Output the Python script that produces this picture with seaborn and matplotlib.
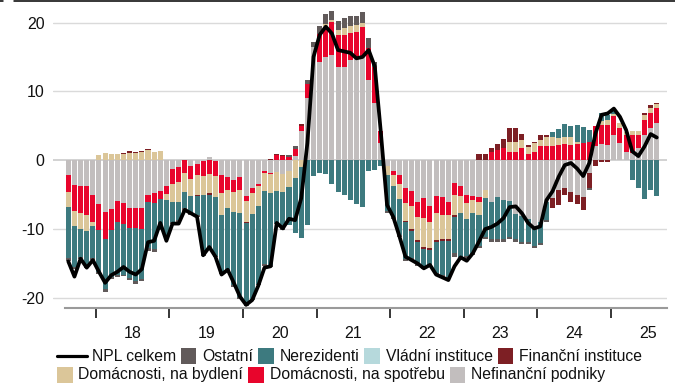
import numpy as np
import pandas as pd
import matplotlib
matplotlib.use("Agg")
import matplotlib.pyplot as plt
from matplotlib.lines import Line2D
from matplotlib.patches import Rectangle
import seaborn as sns

# Monthly contributions to the year-on-year change of NPL, Aug 2017 - Aug 2025 (p.p.)
months = pd.period_range("2017-08", "2025-08", freq="M")
year_labels = ["18", "19", "20", "21", "22", "23", "24", "25"]

nefinancni = [
    -2.1, -3.6, -3.8, -3.7, -5.0,
    -6.4, -7.5, -7.1, -5.9, -6.2, -7.0, -6.9, -7.0, -5.1, -4.8, -4.4, -3.8,
    -1.2, -1.0, 0.0, -0.8, -0.6, -0.15, 0.4, -0.15, -2.2, -2.5, -2.85, -2.5,
    -5.2, -4.0, -3.5, -1.5, -1.85, -1.75, -2.0, -1.6, 0.6, 4.2, 9.0, 16.5,
    14.3, 15.0, 15.3, 13.6, 13.6, 14.6, 15.0, 15.1, 11.7, 8.3, 2.5, -0.9,
    -1.5, -2.1, -4.1, -4.5, -6.0, -5.5, -6.6, -5.2, -5.3, -6.1, -3.35, -3.8,
    -5.0, -5.2, -5.3, -4.3, -6.1, -5.4, -5.8, -5.9, -7.8, -8.1, -8.6, -9.6,
    -9.0, -6.0, -5.5, -4.3, -4.1, -4.6, -5.1, -5.3, -1.9, 2.0, 2.4, 2.2,
    3.7, 2.5, 1.2, 1.0, 1.75, 3.7, 4.65, 5.4,
]
spotreba = [
    -2.5, -3.7, -3.8, -4.2, -4.0,
    -3.8, -4.0, -3.0, -3.1, -3.0, -2.8, -2.9, -3.0, -1.0, -1.4, -1.2, -1.1,
    -2.3, -2.1, -1.9, -1.9, -1.6, -2.1, -2.0, -2.1, -2.5, -1.8, -1.7, -1.8,
    -0.7, -0.8, -0.2, -0.35, -0.2, 0.8, 0.6, 0.5, 1.0, 0.8, 2.1, 0.0,
    4.1, 4.4, 4.8, 4.6, 4.6, 3.9, 3.6, 4.25, 4.6, 5.3, 1.7, 0.0,
    -0.6, -1.4, -2.1, -2.1, -2.2, -2.9, -2.3, -2.5, -2.7, -1.8, -1.7, -1.45,
    -1.2, -0.6, -0.7, 0.0, 1.25, 1.5, 1.75, 1.25, 1.25, 1.75, 0.9, 1.25,
    2.0, 2.1, 2.1, 2.2, 2.3, 2.2, 2.3, 2.5, 2.7, 3.0, 2.75, 2.9,
    2.7, 2.2, 2.4, 2.7, 1.95, 2.2, 2.2, 2.2,
]
bydleni = [
    -2.2, -2.2, -2.4, -2.4, -0.6,
    0.8, 1.0, 0.9, 0.9, 0.9, 1.1, 1.0, 1.25, 1.5, 1.15, 1.35, -0.9,
    -2.5, -2.9, -2.75, -2.5, -2.8, -2.8, -2.8, -3.1, -3.3, -2.6, -3.0, -3.3,
    -3.1, -3.0, -2.9, -2.65, -2.7, -2.7, -2.6, -2.3, -2.6, -1.0, 0.0, 0.0,
    0.0, 0.4, 0.25, 0.7, 1.0, 1.0, 1.0, 0.6, 0.0, 0.0, 0.0, -1.2,
    -1.7, -2.2, -2.6, -3.4, -3.4, -4.2, -3.9, -3.9, -3.4, -3.6, -2.9, -2.4,
    -2.4, -1.85, -1.9, -1.2, 0.0, 0.0, 0.0, 1.45, 1.45, 1.2, 1.05, 1.2,
    1.0, 1.25, 1.25, 1.0, 1.1, 1.2, 0.3, 0.0, 0.0, 0.0, 0.5, 0.7,
    0.3, 0.7, 0.5, 0.5, 0.6, 0.7, 0.7, 0.5,
]
financni = [
    0.0, 0.0, 0.0, 0.0, 0.0,
    0.0, 0.0, 0.0, 0.0, 0.1, 0.2, 0.2, 0.15, 0.15, 0.0, 0.0, 0.0,
    0.0, 0.0, 0.0, 0.0, -0.25, 0.0, -0.25, 0.0, 0.0, 0.0, 0.0, -0.1,
    -0.1, 0.0, 0.0, 0.0, 0.2, 0.15, 0.1, 0.0, 0.0, 0.3, 0.0, 0.0,
    0.0, 0.0, 0.0, 0.0, 0.0, 0.0, 0.0, 0.0, 0.0, 0.0, 0.0, 0.0,
    0.0, 0.0, -0.2, -0.25, -0.2, -0.25, -0.2, -0.2, -0.3, -0.2, -0.25, 0.0,
    0.0, 0.0, 0.9, 0.9, 0.5, 0.9, 1.3, 1.95, 1.95, 0.9, 0.25, 0.25,
    0.6, 0.25, -1.4, -2.2, -1.0, -1.45, -1.2, -1.95, -2.2, -0.9, -0.2, -0.2,
    0.0, 0.0, 0.0, 0.0, 0.0, 0.25, 0.5, 0.25,
]
vladni = [0.0] * len(months)
nerezidenti = [
    -7.4, -6.0, -4.0, -5.0, -4.6,
    -6.0, -7.2, -6.8, -7.7, -7.4, -7.3, -7.8, -7.2, -6.7, -6.7, -4.3, -5.4,
    -3.0, -2.7, -2.3, -2.5, -2.7, -8.5, -7.6, -8.5, -8.3, -8.9, -10.6, -12.2,
    -11.8, -12.3, -11.3, -10.5, -10.4, -4.6, -5.3, -5.5, -8.0, -10.3, -9.4, -2.3,
    -1.9, -2.0, -3.5, -4.6, -5.1, -5.8, -6.4, -6.8, -1.6, -1.4, -0.9, -5.3,
    -4.5, -5.2, -5.3, -4.0, -3.3, -2.6, -2.2, -4.6, -5.0, -5.3, -5.3, -6.5,
    -5.3, -5.8, -4.6, -5.6, -5.3, -6.1, -5.7, -5.3, -3.7, -3.8, -3.3, -2.8,
    -3.0, -2.7, 0.7, 1.3, 1.85, 1.55, 2.55, 2.4, 1.7, 0.0, 1.2, 0.7,
    0.5, 0.0, 0.0, -2.85, -4.05, -5.7, -4.35, -5.2,
]
ostatni = [
    -0.5, -0.3, -0.3, -0.3, -0.3,
    -0.3, -0.4, -0.3, -0.3, -0.2, -0.3, -0.3, -0.3, -0.4, -0.4, -0.3, -0.3,
    -0.3, -0.3, -0.5, -0.3, -0.3, -0.3, -0.3, -0.2, -0.2, -0.2, -0.2, -0.2,
    -0.2, -0.2, -0.2, -0.3, -0.3, -0.2, -0.2, 0.3, 0.5, 0.0, 0.6, 0.7,
    1.1, 1.5, 1.3, 1.35, 1.45, 1.45, 1.3, 1.55, 1.45, 0.6, 0.0, -0.3,
    -0.2, -0.2, -0.4, -0.3, -0.3, -0.3, -0.3, -0.3, -0.3, -0.3, -0.5, -0.3,
    -0.3, -0.3, -0.3, -0.4, -0.4, -0.3, -0.3, -0.3, -0.4, -0.3, -0.3, -0.3,
    -0.3, -0.3, 0.0, 0.0, 0.0, 0.0, 0.0, 0.0, -0.2, 0.0, 0.0, 0.0,
    0.0, 0.0, 0.0, 0.0, 0.0, 0.0, 0.0, 0.0,
]
npl_celkem = [
    -14.7, -16.9, -14.3, -15.6, -14.5,
    -16.2, -17.8, -16.7, -16.2, -15.5, -16.2, -16.6, -15.8, -11.9, -11.7, -9.1, -11.7,
    -9.2, -9.2, -7.2, -7.7, -8.2, -13.8, -12.6, -14.0, -16.6, -15.9, -17.8, -19.8,
    -21.0, -20.3, -18.2, -15.6, -15.4, -9.1, -9.9, -8.5, -8.7, -5.5, 2.5, 15.0,
    18.2, 19.4, 18.4, 16.0, 15.8, 15.6, 14.8, 15.0, 16.0, 13.6, 3.9, -6.5,
    -8.2, -11.0, -14.0, -14.5, -15.0, -15.7, -15.2, -16.6, -17.0, -17.4, -15.4, -14.1,
    -14.6, -13.5, -11.8, -10.0, -9.7, -9.2, -8.4, -6.8, -6.7, -7.7, -9.1, -9.9,
    -9.6, -5.8, -4.5, -2.4, -0.7, -0.4, -1.2, -2.3, -0.4, 3.9, 6.6, 6.8,
    7.5, 6.3, 4.4, 1.3, 0.6, 2.0, 3.8, 3.3,
]

# stacking order, from the zero line outwards
components = [
    ("Nefinanční podniky", nefinancni, "#c2bebe"),
    ("Domácnosti, na spotřebu", spotreba, "#e8052c"),
    ("Domácnosti, na bydlení", bydleni, "#dbc699"),
    ("Finanční instituce", financni, "#7d1f24"),
    ("Vládní instituce", vladni, "#b6d9dc"),
    ("Nerezidenti", nerezidenti, "#3d7a7f"),
    ("Ostatní", ostatni, "#615a5a"),
]

sns.set_style("white")
plt.rcParams["font.family"] = ["Liberation Sans", "DejaVu Sans"]
plt.rcParams["font.size"] = 11.5
TEXT = "#111111"

W, H = 675, 388
fig = plt.figure(figsize=(W / 100, H / 100), dpi=100)
ax = fig.add_axes([53 / W, 1 - 308.3 / H, (667 - 53) / W, 308.3 / H])

x = np.arange(len(months))
pos_base = np.zeros(len(x))
neg_base = np.zeros(len(x))
for name, vals, color in components:
    v = np.asarray(vals, dtype=float)
    bottom = np.where(v >= 0, pos_base, neg_base)
    sns.barplot(x=x, y=v, bottom=bottom, orient="x", native_scale=True,
                color=color, saturation=1, width=0.82, errorbar=None,
                linewidth=0, zorder=2, ax=ax)
    pos_base += np.clip(v, 0, None)
    neg_base += np.clip(v, None, 0)

sns.lineplot(x=x, y=npl_celkem, color="black", linewidth=2.7, zorder=5,
             solid_joinstyle="round", solid_capstyle="round", ax=ax)

# horizontal grid
for gy in (-20, -10, 10, 20):
    ax.axhline(gy, color="#dadada", lw=1.0, zorder=0)
ax.axhline(0, color="#c6c6c6", lw=1.1, zorder=0)

ax.set_xlim(-2.5, 97.67)
ax.set_ylim(-21.5, 23.27)
for side in ("top", "right", "left"):
    ax.spines[side].set_visible(False)
ax.spines["bottom"].set_bounds(-0.55, 97.67)
ax.spines["bottom"].set_color("#9a9a9a")
ax.spines["bottom"].set_linewidth(1.5)

# year boundaries as ticks, year names centred between them
ax.set_xticks([4.5 + 12 * k for k in range(len(year_labels))])
ax.set_xticks([10.5 + 12 * k for k in range(len(year_labels))], minor=True)
ax.set_xticklabels([], minor=False)
ax.set_xticklabels(year_labels, minor=True)
ax.tick_params(axis="x", which="major", length=7.2, width=1.1, color="black",
               direction="out", bottom=True)
ax.tick_params(axis="x", which="minor", length=0, pad=12.5, labelsize=11.5,
               labelcolor=TEXT)
ax.set_yticks([-20, -10, 0, 10, 20])
ax.set_yticklabels(["-20", "-10", "0", "10", "20"])
ax.tick_params(axis="y", length=0, pad=6.1, labelsize=11.5, labelcolor=TEXT)
ax.set_xlabel("")
ax.set_ylabel("")
ax.grid(False)

# frame line along the top edge
fig.add_artist(Line2D([0, 3 / W], [1 - 0.7 / H] * 2, color="black", lw=1.1))
fig.add_artist(Line2D([14 / W, 1], [1 - 0.7 / H] * 2, color="black", lw=1.1))

# legend in two flowing rows
fig.canvas.draw()
renderer = fig.canvas.get_renderer()
colors = {name: color for name, _, color in components}


def legend_row(entries, x0, box_top, baseline, box=15.5):
    xc = x0
    for label in entries:
        if label == "NPL celkem":
            yc = 1 - (box_top + box / 2) / H
            fig.add_artist(Line2D([xc / W, (xc + 30) / W], [yc, yc],
                                  color="black", lw=2.3))
            xc += 30 + 5
        else:
            fig.add_artist(Rectangle((xc / W, 1 - (box_top + box) / H),
                                     box / W, box / H, facecolor=colors[label],
                                     edgecolor="none", transform=fig.transFigure))
            xc += box + 6
        t = fig.text(xc / W, 1 - baseline / H, label, ha="left",
                     va="baseline", fontsize=11.3, color=TEXT)
        xc += t.get_window_extent(renderer).width + 5


legend_row(["NPL celkem", "Ostatní", "Nerezidenti", "Vládní instituce",
            "Finanční instituce"], 56.7, 348.0, 360.7)
legend_row(["Domácnosti, na bydlení", "Domácnosti, na spotřebu",
            "Nefinanční podniky"], 57.0, 367.3, 379.5)

fig.savefig("out.png", dpi=100)
